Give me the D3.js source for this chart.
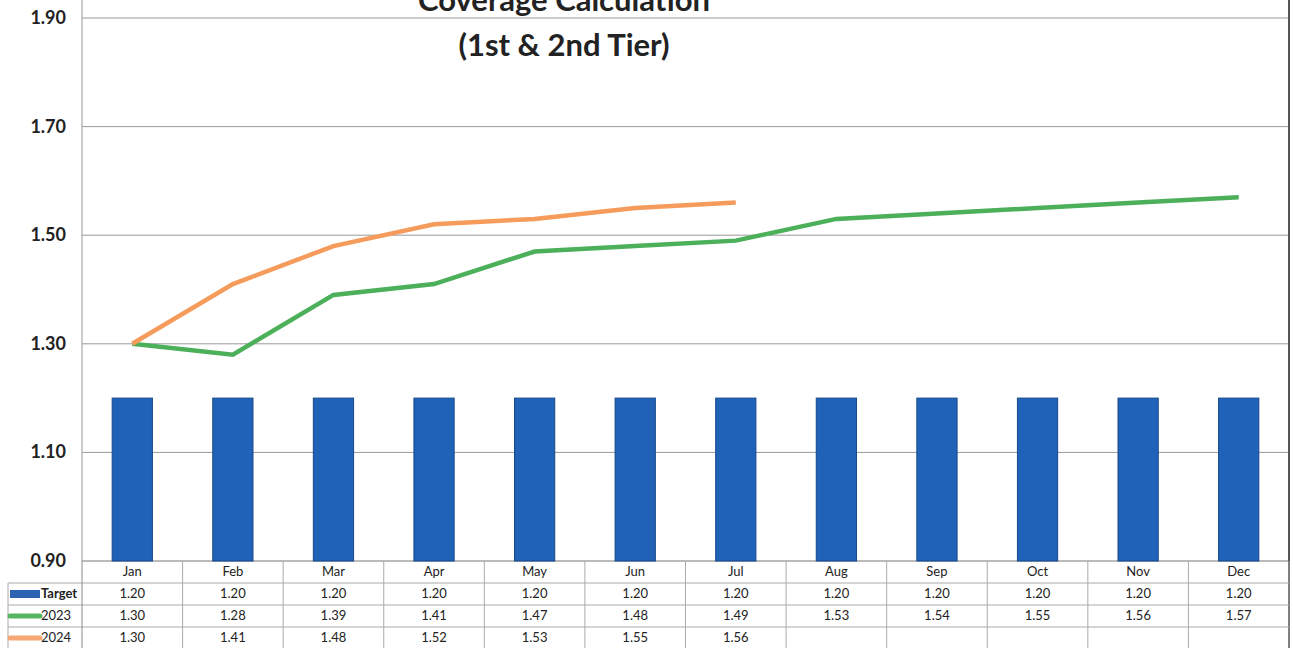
<!DOCTYPE html>
<html>
<head>
<meta charset="utf-8">
<script src="https://cdn.jsdelivr.net/npm/d3@7"></script>
<style>
  body { margin: 0; background: #fff; }
  text { font-family: Lato, "Open Sans", sans-serif; fill: #222; }
</style>
</head>
<body>
<script>
// data
const months = ["Jan", "Feb", "Mar", "Apr", "May", "Jun", "Jul", "Aug", "Sep", "Oct", "Nov", "Dec"];
const target = [1.20, 1.20, 1.20, 1.20, 1.20, 1.20, 1.20, 1.20, 1.20, 1.20, 1.20, 1.20];
const cov2023 = [1.30, 1.28, 1.39, 1.41, 1.47, 1.48, 1.49, 1.53, 1.54, 1.55, 1.56, 1.57];
const cov2024 = [1.30, 1.41, 1.48, 1.52, 1.53, 1.55, 1.56];
const yTicks = [0.90, 1.10, 1.30, 1.50, 1.70, 1.90];

const W = 1293, H = 648;
const plotLeft = 82, plotRight = 1289, plotTop = 18, plotBottom = 561;
const rowH = 22;

const svg = d3.select("body").append("svg")
  .attr("width", W)
  .attr("height", H);

const x = d3.scaleBand().domain(months).range([plotLeft, plotRight]);
const y = d3.scaleLinear().domain([0.9, 1.9]).range([plotBottom, plotTop]);

drawGrid();
drawBars();
drawLines();
drawTable();
drawTitle();

function drawGrid() {
  svg.append("g")
    .selectAll("line")
    .data(yTicks)
    .join("line")
    .attr("x1", plotLeft).attr("x2", plotRight)
    .attr("y1", d => y(d)).attr("y2", d => y(d))
    .attr("stroke", d => d === 0.9 ? "#777" : "#999")
    .attr("stroke-width", 1);

  // y axis line
  svg.append("line")
    .attr("x1", plotLeft).attr("x2", plotLeft)
    .attr("y1", 0).attr("y2", plotBottom)
    .attr("stroke", "#999");

  // y labels
  svg.append("g")
    .selectAll("text")
    .data(yTicks)
    .join("text")
    .attr("x", plotLeft - 16)
    .attr("y", d => y(d) + 6)
    .attr("text-anchor", "end")
    .style("font-weight", "bold")
    .style("font-size", "18px")
    .text(d3.format(".2f"));

  // right border
  svg.append("line")
    .attr("x1", plotRight).attr("x2", plotRight)
    .attr("y1", 0).attr("y2", H)
    .attr("stroke", "#555").attr("stroke-width", 2);
}

function drawBars() {
  const bw = x.bandwidth() * 0.4;
  svg.append("g")
    .selectAll("rect")
    .data(target)
    .join("rect")
    .attr("x", (d, i) => x(months[i]) + (x.bandwidth() - bw) / 2)
    .attr("y", d => y(d))
    .attr("width", bw)
    .attr("height", d => plotBottom - y(d))
    .attr("fill", "#1f62b8")
    .attr("stroke", "#16488a")
    .attr("stroke-width", 1);
}

function drawLines() {
  const line = d3.line()
    .x((d, i) => x(months[i]) + x.bandwidth() / 2)
    .y(d => y(d));

  svg.append("path")
    .datum(cov2023)
    .attr("d", line)
    .attr("fill", "none")
    .attr("stroke", "#4caf5a")
    .attr("stroke-width", 4.5);

  svg.append("path")
    .datum(cov2024)
    .attr("d", line)
    .attr("fill", "none")
    .attr("stroke", "#f59c5c")
    .attr("stroke-width", 4.5);
}

function drawTable() {
  const t = svg.append("g");
  const rows = [
    { name: "Target", values: target, color: "#2e63b3", key: "bar" },
    { name: "2023", values: cov2023, color: "#55b563", key: "line" },
    { name: "2024", values: cov2024, color: "#f6a874", key: "line" }
  ];

  // header month labels
  t.selectAll(".month")
    .data(months)
    .join("text")
    .attr("class", "month")
    .attr("x", d => x(d) + x.bandwidth() / 2)
    .attr("y", plotBottom + rowH / 2 + 4)
    .attr("text-anchor", "middle")
    .style("font-size", "13px")
    .text(d => d);

  // horizontal lines
  [1, 2, 3].forEach(r => {
    t.append("line")
      .attr("x1", 8).attr("x2", plotRight)
      .attr("y1", plotBottom + r * rowH).attr("y2", plotBottom + r * rowH)
      .attr("stroke", "#aaa");
  });

  // vertical lines
  months.forEach(m => {
    t.append("line")
      .attr("x1", x(m) + x.bandwidth()).attr("x2", x(m) + x.bandwidth())
      .attr("y1", plotBottom).attr("y2", H)
      .attr("stroke", "#aaa");
  });
  t.append("line")
    .attr("x1", 8).attr("x2", 8)
    .attr("y1", plotBottom + rowH).attr("y2", H)
    .attr("stroke", "#aaa");
  t.append("line")
    .attr("x1", plotLeft).attr("x2", plotLeft)
    .attr("y1", plotBottom).attr("y2", H)
    .attr("stroke", "#888");

  rows.forEach((row, r) => {
    const cy = plotBottom + (r + 1) * rowH + rowH / 2;
    // legend key
    if (row.key === "bar") {
      t.append("rect")
        .attr("x", 10).attr("y", cy - 4).attr("width", 30).attr("height", 8)
        .attr("fill", row.color);
    } else {
      t.append("line")
        .attr("x1", 10).attr("x2", 40).attr("y1", cy).attr("y2", cy)
        .attr("stroke", row.color).attr("stroke-width", 5)
        .attr("stroke-linecap", "round");
    }
    t.append("text")
      .attr("x", 41).attr("y", cy + 4)
      .style("font-size", "13px")
      .style("font-weight", row.name === "Target" ? "bold" : "normal")
      .text(row.name);

    t.selectAll(null)
      .data(row.values)
      .join("text")
      .attr("x", (d, i) => x(months[i]) + x.bandwidth() / 2)
      .attr("y", cy + 4)
      .attr("text-anchor", "middle")
      .style("font-size", "13px")
      .text(d => d.toFixed(2));
  });
}

function drawTitle() {
  const cx = 564;
  svg.append("text")
    .attr("x", cx).attr("y", 11)
    .attr("text-anchor", "middle")
    .style("font-size", "31px")
    .style("font-weight", "bold")
    .text("Coverage Calculation");
  svg.append("text")
    .attr("x", cx).attr("y", 56)
    .attr("text-anchor", "middle")
    .style("font-size", "31px")
    .style("font-weight", "bold")
    .text("(1st & 2nd Tier)");
}
</script>
</body>
</html>
